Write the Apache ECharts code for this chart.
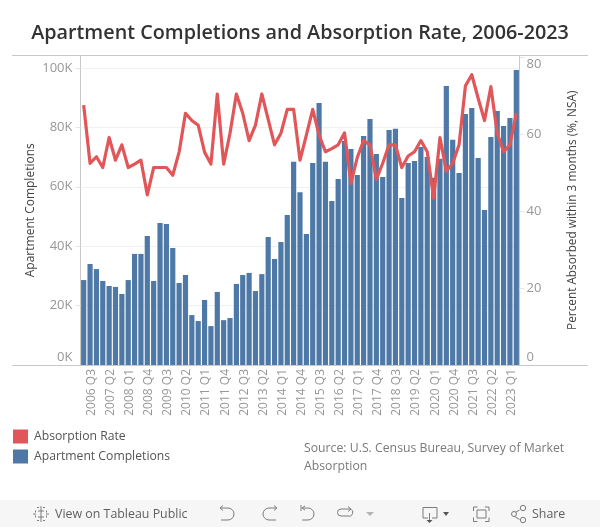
<!DOCTYPE html>
<html>
<head>
    <meta charset="utf-8">
    <title>Apartment Completions and Absorption Rate</title>
    <script src="https://cdn.jsdelivr.net/npm/echarts@6/dist/echarts.min.js"></script>
    <style>
        html, body { margin: 0; padding: 0; background: #fff; }
    </style>
</head>
<body>
    <div id="main" style="width: 600px; height: 527px;"></div>
    <script type="text/javascript">
    var quarters = [
        '2006 Q2', '2006 Q3', '2006 Q4',
        '2007 Q1', '2007 Q2', '2007 Q3', '2007 Q4',
        '2008 Q1', '2008 Q2', '2008 Q3', '2008 Q4',
        '2009 Q1', '2009 Q2', '2009 Q3', '2009 Q4',
        '2010 Q1', '2010 Q2', '2010 Q3', '2010 Q4',
        '2011 Q1', '2011 Q2', '2011 Q3', '2011 Q4',
        '2012 Q1', '2012 Q2', '2012 Q3', '2012 Q4',
        '2013 Q1', '2013 Q2', '2013 Q3', '2013 Q4',
        '2014 Q1', '2014 Q2', '2014 Q3', '2014 Q4',
        '2015 Q1', '2015 Q2', '2015 Q3', '2015 Q4',
        '2016 Q1', '2016 Q2', '2016 Q3', '2016 Q4',
        '2017 Q1', '2017 Q2', '2017 Q3', '2017 Q4',
        '2018 Q1', '2018 Q2', '2018 Q3', '2018 Q4',
        '2019 Q1', '2019 Q2', '2019 Q3', '2019 Q4',
        '2020 Q1', '2020 Q2', '2020 Q3', '2020 Q4',
        '2021 Q1', '2021 Q2', '2021 Q3', '2021 Q4',
        '2022 Q1', '2022 Q2', '2022 Q3', '2022 Q4',
        '2023 Q1', '2023 Q2'
    ];
    // thousands of units
    var completions = [
        28.6, 34, 32.3, 28.3, 26.6, 26.3, 23.9, 28.6, 37.4, 37.4, 43.4, 28.3,
        47.8, 47.5, 39.4, 27.6, 30.3, 16.8, 14.8, 21.9, 13.1, 24.6, 15.1, 15.8,
        27.3, 30.3, 31, 24.9, 30.6, 43.1, 35.7, 41.4, 50.5, 68.4, 58.2, 44.1,
        68, 88.2, 68.4, 55.2, 62.6, 75.4, 72.7, 64, 77.1, 82.8, 71, 63.3,
        79.1, 79.5, 56.2, 68, 68.7, 73.4, 70, 63, 69.4, 93.9, 75.8, 64.6,
        84.5, 86.5, 69.7, 52.2, 76.8, 85.5, 80.5, 83.2, 99.3
    ];
    // percent absorbed within 3 months
    var absorption = [
        67.5, 52.4, 54.1, 51.3, 59.1, 53.2, 57.2, 51.3, 52.2, 53.2, 44.2, 51.3,
        51.3, 51.3, 49.3, 55.3, 65.4, 63.5, 62.3, 55.3, 52.2, 70.4, 52.2, 60.2,
        70.4, 65.4, 58.3, 62.3, 70.4, 63.8, 57.2, 60.2, 66.4, 66.4, 53.2, 59.7,
        66.4, 59.7, 55.4, 56.2, 57.2, 60.3, 47.2, 53.9, 58.3, 57.2, 48.2, 52.4,
        57.2, 57.2, 51.3, 54.3, 55.4, 58.3, 55.4, 43.3, 59.1, 50.3, 52.4, 57.2,
        72.5, 75.4, 69.3, 63.5, 72.3, 60.2, 55.4, 57.2, 65.4
    ];
    var leftTicks = [0, 20, 40, 60, 80, 100];
    var rightTicks = [0, 20, 40, 60, 80];
    var sourceLines = ['Source: U.S. Census Bureau, Survey of Market', 'Absorption'];

    var FONT = '"Open Sans", sans-serif';
    var RED = '#e15759', BLUE = '#4e79a7', RULE = '#c8c8c8', TICKTEXT = '#979797';

    var iconCount = 0;
    function icon(d) {
        // the graphic component has no plain svg path type, so register one per icon
        var name = 'toolbarIcon' + (iconCount++);
        echarts.graphic.registerShape(name, echarts.graphic.extendPath(d, {}));
        return {
            type: name,
            style: { fill: 'none', stroke: '#7c7c7c', lineWidth: 1 },
            z: 20
        };
    }
    function rule(x1, y1, x2, y2) {
        return {
            type: 'line',
            shape: { x1: x1, y1: y1, x2: x2, y2: y2 },
            style: { stroke: RULE, lineWidth: 1 },
            z: 10
        };
    }
    function label(text, x, y, size, color, weight) {
        return {
            type: 'text', x: x, y: y, z: 20,
            style: { text: text, font: (weight || 400) + ' ' + size + 'px ' + FONT, fill: color, textVerticalAlign: 'middle' }
        };
    }

    var myChart = echarts.init(document.getElementById('main'));
    var option = {
        backgroundColor: '#fff',
        animation: false,
        title: {
            text: 'Apartment Completions and Absorption Rate, 2006-2023',
            left: 'center',
            top: 23,
            padding: 0,
            textStyle: { fontFamily: FONT, fontSize: 19.8, fontWeight: 600, color: '#333' }
        },
        legend: {
            orient: 'vertical',
            left: 13,
            top: 429.5,
            padding: 0,
            itemWidth: 15,
            itemHeight: 14,
            itemGap: 6,
            icon: 'rect',
            data: ['Absorption Rate', 'Apartment Completions'],
            textStyle: { fontFamily: FONT, fontSize: 12.2, color: '#555', padding: [0, 0, 0, 1] }
        },
        grid: { left: 80.5, right: 80.5, top: 55.5, bottom: 162 },
        xAxis: {
            type: 'category',
            data: quarters,
            axisLine: { show: false },
            axisTick: { show: false },
            axisLabel: {
                rotate: 90,
                interval: function (i) { return i % 3 === 1; },
                fontFamily: FONT,
                fontSize: 12,
                color: TICKTEXT,
                margin: 4,
                formatter: function (v) { return '{q|' + v + '}'; },
                rich: { q: { padding: [3, 0, 0, 0], fontFamily: FONT, fontSize: 12, color: TICKTEXT } }
            }
        },
        yAxis: [{
            type: 'value',
            min: 0,
            max: 104.2,
            name: 'Apartment Completions',
            nameLocation: 'center',
            nameGap: 44,
            nameMoveOverlap: false,
            nameTextStyle: { fontFamily: FONT, fontSize: 12, color: '#444' },
            axisLine: { show: true, lineStyle: { color: RULE } },
            axisTick: { show: true, length: 5, customValues: leftTicks, lineStyle: { color: '#e6e6e6' } },
            axisLabel: {
                customValues: leftTicks,
                fontFamily: FONT,
                fontSize: 13,
                color: TICKTEXT,
                margin: 8,
                formatter: function (v) { return v === 0 ? '{up|0K}' : v + 'K'; },
                rich: { up: { padding: [0, 0, 16, 0], fontFamily: FONT, fontSize: 13, color: TICKTEXT } }
            },
            splitLine: { show: true, lineStyle: { color: '#f0f0f0' } },
            interval: 20
        }, {
            type: 'value',
            min: 0,
            max: 80.4,
            name: 'Percent Absorbed within 3 months (%, NSA)',
            nameLocation: 'center',
            nameGap: 47,
            nameMoveOverlap: false,
            nameTextStyle: { fontFamily: FONT, fontSize: 11.8, color: '#444' },
            axisLine: { show: true, lineStyle: { color: RULE } },
            axisTick: { show: true, length: 5, customValues: rightTicks, lineStyle: { color: '#e6e6e6' } },
            axisLabel: {
                customValues: rightTicks,
                fontFamily: FONT,
                fontSize: 13,
                color: TICKTEXT,
                margin: 7,
                formatter: function (v) {
                    if (v === 0) return '{up|0}';
                    if (v === 80) return '{down|80}';
                    return '' + v;
                },
                rich: {
                    up: { padding: [0, 0, 16, 0], fontFamily: FONT, fontSize: 13, color: TICKTEXT },
                    down: { padding: [15, 0, 0, 0], fontFamily: FONT, fontSize: 13, color: TICKTEXT }
                }
            },
            splitLine: { show: false },
            interval: 20
        }],
        series: [{
            name: 'Apartment Completions',
            type: 'bar',
            yAxisIndex: 0,
            data: completions,
            barWidth: 5.2,
            itemStyle: { color: BLUE }
        }, {
            name: 'Absorption Rate',
            type: 'line',
            yAxisIndex: 1,
            data: absorption,
            showSymbol: false,
            symbol: 'none',
            lineStyle: { color: RED, width: 3.2, join: 'round' },
            itemStyle: { color: RED },
            z: 5
        }],
        graphic: [
            rule(12, 55.5, 588, 55.5),
            rule(12, 365.5, 588, 365.5),
            label(sourceLines[0], 304, 449, 12.25, '#7a7a7a'),
            label(sourceLines[1], 304, 467, 12.25, '#7a7a7a'),
            // tableau toolbar
            { type: 'rect', shape: { x: 0, y: 500, width: 600, height: 27 }, style: { fill: '#f6f6f6' }, z: 15 },
            icon('M41 506v3M41 519v3M33 514h3M46 514h3M38 511h6M38 517h6M41 509v10M35.5 510.5v2M35.5 515.5v2M46.5 510.5v2M46.5 515.5v2M37 507.5h2M43 507.5h2M37 520.5h2M43 520.5h2'),
            label('View on Tableau Public', 55, 514, 12.4, '#5f5f5f', 500),
            icon('M221 508h7a5.5 5.5 0 0 1 0 12h-7M223 505.5l-3 2.5l3 2.5'),
            icon('M276 508h-7a5.5 5.5 0 0 0 0 12h7M274 505.5l3 2.5l-3 2.5'),
            icon('M301 505v6M303 508h5a6 6 0 0 1 0 12h-6M305 506l-3 2l3 2'),
            icon('M350 509h-9a3.5 3.5 0 0 0 0 7h7a3.5 3.5 0 0 0 2 -7M348 506.5l3 2.5l-3 2.5'),
            { type: 'polygon', shape: { points: [[366, 512], [374, 512], [370, 516]] }, style: { fill: '#b4b4b4' }, z: 20 },
            rule(395.5, 507, 395.5, 520),
            icon('M428 518h-5v-10.5h14v10.5h-5M429.5 513v9'),
            { type: 'polygon', shape: { points: [[426.5, 520], [432.5, 520], [429.5, 523]] }, style: { fill: '#555' }, z: 20 },
            { type: 'polygon', shape: { points: [[443, 512], [449, 512], [446, 516]] }, style: { fill: '#555' }, z: 20 },
            icon('M473.5 511v-4h4M485 507h4v4M489 517.5v4h-4M477.5 521.5h-4v-4M477 510h9v8h-9z'),
            icon('M511.5 514.5l8 -4.5M511.5 514.5l8 5'),
            { type: 'circle', shape: { cx: 514, cy: 514, r: 2.5 }, style: { fill: '#f6f6f6', stroke: '#7c7c7c' }, z: 21 },
            { type: 'circle', shape: { cx: 523, cy: 508, r: 2.7 }, style: { fill: '#f6f6f6', stroke: '#7c7c7c' }, z: 21 },
            { type: 'circle', shape: { cx: 523, cy: 520, r: 2.7 }, style: { fill: '#f6f6f6', stroke: '#7c7c7c' }, z: 21 },
            label('Share', 532, 514, 12.4, '#5f5f5f', 500)
        ]
    };
    myChart.setOption(option);
    </script>
</body>
</html>
